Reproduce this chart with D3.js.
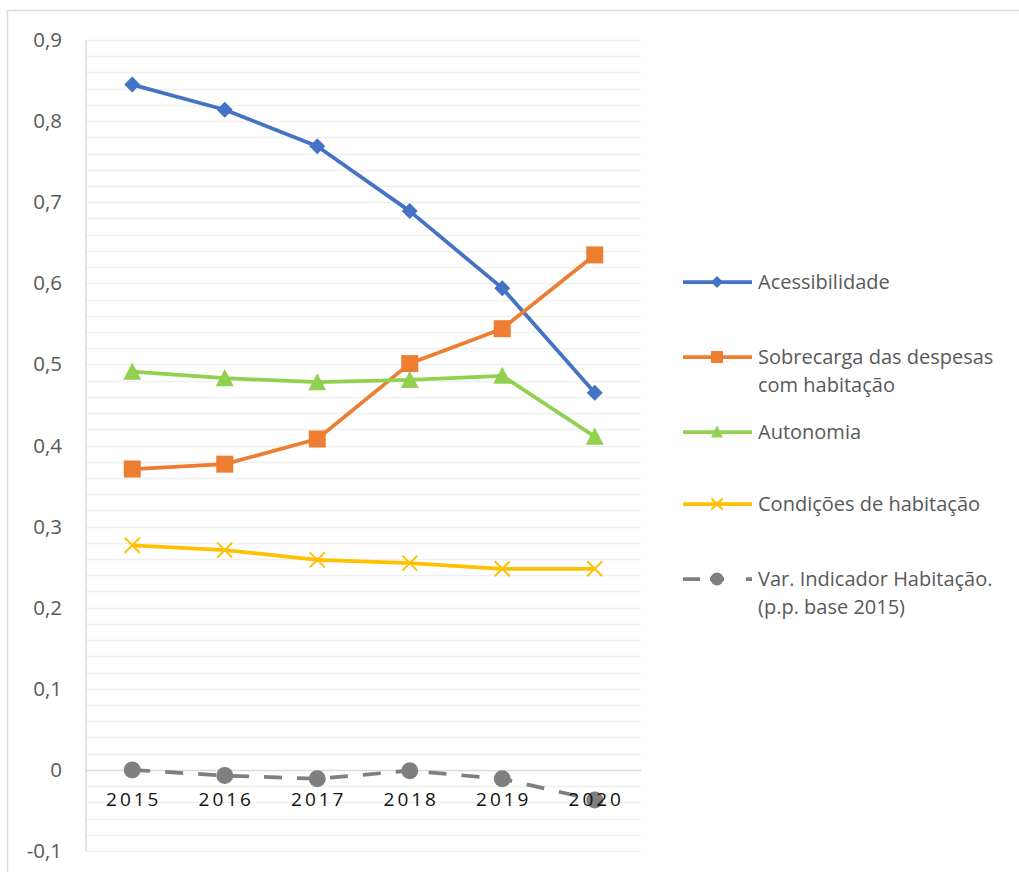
<!DOCTYPE html>
<html>
<head>
<meta charset="utf-8">
<script src="https://cdn.jsdelivr.net/npm/d3@7"></script>
<style>
  html, body { margin: 0; padding: 0; background: #fff; }
  svg { display: block; }
</style>
</head>
<body>
<svg id="chart" width="1019" height="872"></svg>
<script>
// Categories and series
const years = ["2015", "2016", "2017", "2018", "2019", "2020"];
const acessibilidade = [0.845, 0.814, 0.769, 0.689, 0.594, 0.465];
const sobrecarga = [0.371, 0.377, 0.408, 0.501, 0.544, 0.635];
const autonomia = [0.491, 0.483, 0.478, 0.481, 0.486, 0.411];
const condicoes = [0.277, 0.271, 0.259, 0.255, 0.248, 0.248];
const variacao = [0.000, -0.007, -0.011, -0.001, -0.011, -0.037];

// Axis ticks
const yTicks = [-0.1, 0, 0.1, 0.2, 0.3, 0.4, 0.5, 0.6, 0.7, 0.8, 0.9];
const yTickLabels = ["-0,1", "0", "0,1", "0,2", "0,3", "0,4", "0,5", "0,6", "0,7", "0,8", "0,9"];
const yMinor = d3.range(-0.1, 0.9001, 0.02).map(v => +v.toFixed(2));

const seriesNames = [
  ["Acessibilidade"],
  ["Sobrecarga das despesas", "com habitação"],
  ["Autonomia"],
  ["Condições de habitação"],
  ["Var. Indicador Habitação.", "(p.p. base 2015)"]
];

const series = [
  { name: seriesNames[0], values: acessibilidade, color: "#4472C4", marker: "diamond" },
  { name: seriesNames[1], values: sobrecarga, color: "#ED7D31", marker: "square" },
  { name: seriesNames[2], values: autonomia, color: "#92D050", marker: "triangle" },
  { name: seriesNames[3], values: condicoes, color: "#FFC000", marker: "cross" },
  { name: seriesNames[4], values: variacao, color: "#7F7F7F", marker: "circle", dashed: true }
];

const svg = d3.select("#chart");
const font = "'Open Sans', 'Noto Sans', sans-serif";

// Outer chart frame
svg.append("rect")
  .attr("x", 7.5).attr("y", 10.5)
  .attr("width", 1100).attr("height", 1000)
  .attr("fill", "#fff")
  .attr("stroke", "#d9d9d9").attr("stroke-width", 1.5);

const plot = { left: 86, right: 641, top: 40, bottom: 851 };

const x = d3.scaleBand().domain(years).range([plot.left, plot.right]);
const y = d3.scaleLinear().domain([-0.1, 0.9]).range([plot.bottom, plot.top]);
const cx = d => x(d) + x.bandwidth() / 2;

// Gridlines
svg.append("g").selectAll("line").data(yMinor).join("line")
  .attr("x1", plot.left).attr("x2", plot.right)
  .attr("y1", d => Math.round(y(d)) + 0.5).attr("y2", d => Math.round(y(d)) + 0.5)
  .attr("stroke", d => d === 0 ? "#d9d9d9" : "#efefef")
  .attr("stroke-width", 1.5);

// Vertical axis line
svg.append("line")
  .attr("x1", plot.left).attr("x2", plot.left)
  .attr("y1", plot.top).attr("y2", plot.bottom)
  .attr("stroke", "#d9d9d9").attr("stroke-width", 1.5);

// Y axis labels
const yAxis = d3.axisLeft(y).tickValues(yTicks).tickSize(0).tickPadding(24)
  .tickFormat((d, i) => yTickLabels[i]);
const gy = svg.append("g").attr("transform", `translate(${plot.left},0)`).call(yAxis);
gy.select(".domain").remove();
gy.selectAll("text")
  .attr("font-family", font).attr("font-size", 20.5).attr("fill", "#595959");

// Marker shapes
function drawMarker(g, type, size, color) {
  if (type === "diamond") {
    const s = size / 2;
    g.append("path").attr("d", `M0,${-s}L${s},0L0,${s}L${-s},0Z`).attr("fill", color);
  } else if (type === "square") {
    g.append("rect").attr("x", -size / 2).attr("y", -size / 2)
      .attr("width", size).attr("height", size).attr("fill", color);
  } else if (type === "triangle") {
    const h = size * 0.9;
    g.append("path").attr("d", `M0,${-h / 2 - 1}L${size / 2},${h / 2}L${-size / 2},${h / 2}Z`).attr("fill", color);
  } else if (type === "cross") {
    const s = size / 2;
    g.append("path").attr("d", `M${-s},${-s}L${s},${s}M${-s},${s}L${s},${-s}`)
      .attr("stroke", color).attr("stroke-width", 2).attr("fill", "none");
  } else if (type === "circle") {
    g.append("circle").attr("r", size / 2).attr("fill", color);
  }
}
const markerSize = { diamond: 16, square: 17, triangle: 18, cross: 15, circle: 17 };
const legendMarkerSize = { diamond: 12, square: 12, triangle: 12, cross: 11, circle: 13 };

const line = d3.line().x((d, i) => cx(years[i])).y(d => y(d));

const seriesG = svg.append("g");
series.forEach(s => {
  const g = seriesG.append("g");
  g.append("path")
    .attr("d", line(s.values))
    .attr("fill", "none")
    .attr("stroke", s.color)
    .attr("stroke-width", 3.75)
    .attr("stroke-linejoin", "round")
    .attr("stroke-dasharray", s.dashed ? "18,15" : null);
  s.values.forEach((v, i) => {
    const m = g.append("g").attr("transform", `translate(${cx(years[i])},${y(v)})`);
    drawMarker(m, s.marker, markerSize[s.marker], s.color);
  });
});

// Category labels (drawn above the series)
svg.append("g").selectAll("text").data(years).join("text")
  .attr("x", d => cx(d) + 1.5)
  .attr("y", y(0) + 36)
  .attr("text-anchor", "middle")
  .attr("font-family", font).attr("font-size", 19)
  .attr("letter-spacing", "3px")
  .attr("fill", "#111")
  .text(d => d);

// Legend
const legendY = [282, 357, 432, 504, 579];
const legend = svg.append("g");
series.forEach((s, i) => {
  const g = legend.append("g").attr("transform", `translate(0,${legendY[i]})`);
  g.append("line")
    .attr("x1", 683).attr("x2", 752).attr("y1", 0).attr("y2", 0)
    .attr("stroke", s.color).attr("stroke-width", 3.75)
    .attr("stroke-dasharray", s.dashed ? "17,10,14,22" : null);
  const m = g.append("g").attr("transform", "translate(717,0)");
  drawMarker(m, s.marker, legendMarkerSize[s.marker], s.color);
  const t = g.append("text")
    .attr("x", 758).attr("y", 7)
    .attr("font-family", font).attr("font-size", 20).attr("fill", "#595959");
  s.name.forEach((ln, j) => {
    t.append("tspan").attr("x", 758).attr("dy", j === 0 ? 0 : 28).text(ln);
  });
});
</script>
</body>
</html>
